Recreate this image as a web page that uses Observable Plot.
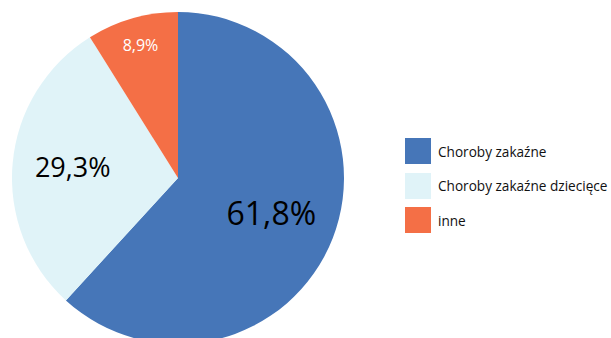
<!DOCTYPE html>
<html>
<head>
<meta charset="utf-8">
<script src="https://cdn.jsdelivr.net/npm/d3@7"></script>
<script src="https://cdn.jsdelivr.net/npm/@observablehq/plot@0.6"></script>
<style>
  html, body { margin: 0; padding: 0; background: #fff; }
  #wrap { position: relative; width: 611px; height: 338px; overflow: hidden; font-family: "Open Sans", sans-serif; }
  #legend { position: absolute; left: 405px; top: 138px; }
  .item { display: flex; align-items: center; height: 26px; margin-bottom: 8.5px; font-size: 13.6px; color: #111; white-space: nowrap; }
  .sw { width: 26px; height: 26px; margin-right: 7px; flex: none; }
</style>
</head>
<body>
<div id="wrap"></div>
<script>
const categories = ["Choroby zakaźne", "Choroby zakaźne dziecięce", "inne"];
const values = [61.8, 29.3, 8.9];
const labels = ["61,8%", "29,3%", "8,9%"];
const colors = ["#4676b8", "#e0f3f8", "#f46f46"];
const labelColors = ["#000000", "#000000", "#ffffff"];
const labelSizes = [32, 27, 16];

const data = categories.map((c, i) => ({category: c, value: values[i], label: labels[i], color: colors[i], labelColor: labelColors[i], size: labelSizes[i]}));
const arcs = d3.pie().sort(null).value(d => d.value)(data);
arcs.forEach(a => {
  const mid = (a.startAngle + a.endAngle) / 2;
  const share = a.data.value / 100;
  const lr = share < 0.15 ? 0.83 : (share < 0.4 ? 0.64 : 0.6);
  a.lx = Math.sin(mid) * lr;
  a.ly = -Math.cos(mid) * lr;
});

const pieMark = (index, scales) => {
  const cx = scales.x(0), cy = scales.y(0);
  const r = scales.x(1) - scales.x(0);
  const arc = d3.arc().innerRadius(0).outerRadius(r);
  const g = d3.create("svg:g").attr("transform", `translate(${cx},${cy})`);
  g.selectAll("path").data(arcs).join("path")
    .attr("d", arc)
    .attr("fill", d => d.data.color);
  return g.node();
};

const chart = Plot.plot({
  width: 611,
  height: 338,
  margin: 0,
  style: {background: "transparent", overflow: "hidden"},
  x: {domain: [-1, 1], range: [12, 344], axis: null},
  y: {domain: [-1, 1], range: [12, 344], axis: null},
  marks: [
    pieMark,
    Plot.text(arcs, {
      x: "lx", y: "ly",
      text: d => d.data.label,
      fill: d => d.data.labelColor,
      fontSize: d => d.data.size,
      fontFamily: "Open Sans"
    })
  ]
});

const wrap = document.getElementById("wrap");
wrap.appendChild(chart);
const legend = document.createElement("div");
legend.id = "legend";
categories.forEach((c, i) => {
  const it = document.createElement("div");
  it.className = "item";
  const sw = document.createElement("div");
  sw.className = "sw";
  sw.style.background = colors[i];
  const t = document.createElement("span");
  t.textContent = c;
  it.appendChild(sw);
  it.appendChild(t);
  legend.appendChild(it);
});
wrap.appendChild(legend);
</script>
</body>
</html>
